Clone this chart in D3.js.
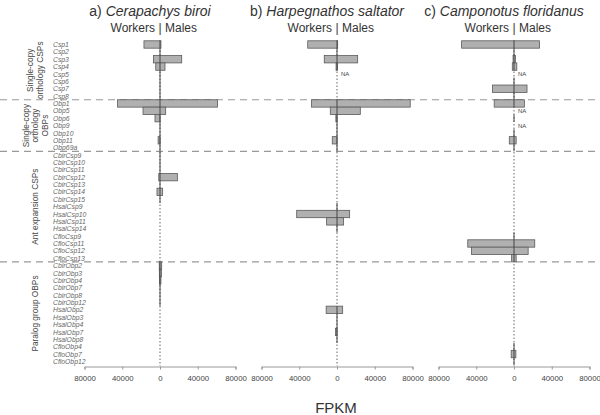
<!DOCTYPE html>
<html>
<head>
<meta charset="utf-8">
<script src="https://cdn.jsdelivr.net/npm/d3@7"></script>
<style>
body { margin: 0; background: #fff; }
text { font-family: "Liberation Sans", Arial, sans-serif; }
</style>
</head>
<body>
<svg id="chart" width="600" height="415"></svg>
<script>
// row labels, top to bottom
const rowLabels = [
  "Csp1", "Csp2", "Csp3", "Csp4", "Csp5", "Csp6", "Csp7", "Csp8",
  "Obp1", "Obp5", "Obp6", "Obp9", "Obp10", "Obp11", "Obp69a",
  "CbirCsp9", "CbirCsp10", "CbirCsp11", "CbirCsp12", "CbirCsp13", "CbirCsp14", "CbirCsp15",
  "HsalCsp9", "HsalCsp10", "HsalCsp11", "HsalCsp14",
  "CfloCsp9", "CfloCsp11", "CfloCsp12", "CfloCsp13",
  "CbirObp2", "CbirObp3", "CbirObp4", "CbirObp7", "CbirObp8", "CbirObp12",
  "HsalObp2", "HsalObp3", "HsalObp4", "HsalObp7", "HsalObp8",
  "CfloObp4", "CfloObp7", "CfloObp12"
];
const groupNames = [["Single-copy", "orthology CSPs"], ["Single-copy", "orthology", "OBPs"],
                    ["Ant expansion CSPs"], ["Paralog group OBPs"]];
const groupSizes = [8, 7, 15, 14];

const panelLetters = ["a)", "b)", "c)"];
const speciesNames = ["Cerapachys biroi", "Harpegnathos saltator", "Camponotus floridanus"];

// FPKM, null = gene not present in that species
const workersCbir = [17000, 0, 7000, 4500, 0, 0, 0, 0,
  45000, 18000, 5300, 0, 0, 2000, 0,
  0, 0, 0, 1300, 0, 3200, 0,
  null, null, null, null, null, null, null, null,
  800, 700, 500, 0, 0, 0,
  null, null, null, null, null, null, null, null];
const malesCbir = [1000, 0, 23000, 5300, 0, 0, 0, 0,
  61000, 6000, 0, 0, 0, 0, 0,
  0, 0, 0, 18400, 0, 2800, 0,
  null, null, null, null, null, null, null, null,
  1800, 1500, 1000, 0, 0, 0,
  null, null, null, null, null, null, null, null];
const naCbir = [];

const workersHsal = [31000, 0, 13500, 1000, null, null, null, null,
  27000, 7100, 1200, 0, 0, 5000, 0,
  null, null, null, null, null, null, null,
  0, 42700, 11000, 0,
  null, null, null, null, null, null, null, null, null, null,
  11500, 0, 0, 1500, 0,
  null, null, null];
const malesHsal = [700, 0, 21900, 500, null, null, null, null,
  77600, 24700, 0, 0, 0, 0, 0,
  null, null, null, null, null, null, null,
  0, 13400, 7000, 0,
  null, null, null, null, null, null, null, null, null, null,
  6000, 0, 0, 0, 0,
  null, null, null];
const naHsal = ["Csp5"];

const workersCflo = [55500, 0, 1000, 1800, null, 0, 22700, 0,
  21000, null, 0, null, 0, 5000, 0,
  null, null, null, null, null, null, null, null, null, null, null,
  0, 49000, 45000, 2500,
  null, null, null, null, null, null, null, null, null, null, null,
  0, 3000, 0];
const malesCflo = [27000, 0, 1500, 3000, null, 0, 13800, 0,
  11000, null, 0, null, 0, 2300, 0,
  null, null, null, null, null, null, null, null, null, null, null,
  0, 22000, 15000, 2300,
  null, null, null, null, null, null, null, null, null, null, null,
  0, 2000, 0];
const naCflo = ["Csp5", "Obp5", "Obp9"];

const tickValues = [-80000, -40000, 0, 40000, 80000];

const panels = [
  { workers: workersCbir, males: malesCbir, na: naCbir },
  { workers: workersHsal, males: malesHsal, na: naHsal },
  { workers: workersCflo, males: malesCflo, na: naCflo }
];

const svg = d3.select("#chart");

const y = d3.scaleBand()
  .domain(rowLabels)
  .range([40.8, 365.1])
  .padding(0);
const bw = y.bandwidth();

// row labels
svg.append("g").selectAll("text")
  .data(rowLabels)
  .join("text")
  .attr("x", 53)
  .attr("y", d => y(d) + bw / 2 + 0.8)
  .attr("dominant-baseline", "middle")
  .style("font-size", "6.8px")
  .style("font-style", "italic")
  .attr("fill", "#666")
  .text(d => d);

// group labels + separators
let start = 0;
groupSizes.forEach((n, gi) => {
  const top = y(rowLabels[start]);
  const bottom = y(rowLabels[start + n - 1]) + bw;
  const yc = (top + bottom) / 2;
  const lines = groupNames[gi];
  lines.forEach((ln, k) => {
    const xc = 35 + (k - (lines.length - 1) / 2) * 9.5;
    svg.append("text")
      .text(ln)
      .attr("text-anchor", "middle")
      .style("font-size", "8.3px")
      .attr("fill", "#444")
      .attr("transform", "translate(" + (xc + 3) + "," + yc + ") rotate(-90)");
  });
  if (gi > 0) {
    svg.append("line")
      .attr("x1", 0).attr("x2", 600)
      .attr("y1", top).attr("y2", top)
      .attr("stroke", "#999")
      .attr("stroke-width", 1.2)
      .attr("stroke-dasharray", "7,5");
  }
  start += n;
});

panels.forEach((p, pi) => {
  const left = 84.5 + pi * 177;
  const x = d3.scaleLinear().domain([-80000, 80000]).range([left, left + 151]);
  const g = svg.append("g");

  // titles
  const title = g.append("text")
    .attr("x", x(0) - 10)
    .attr("y", 16)
    .attr("text-anchor", "middle")
    .style("font-size", "14px")
    .attr("fill", "#333");
  title.append("tspan").text(panelLetters[pi] + " ");
  title.append("tspan").style("font-style", "italic").text(speciesNames[pi]);

  g.append("text").text("Workers")
    .attr("x", x(0) - 5).attr("y", 32)
    .attr("text-anchor", "end")
    .style("font-size", "12px").attr("fill", "#333");
  g.append("text").text("|")
    .attr("x", x(0)).attr("y", 32)
    .attr("text-anchor", "middle")
    .style("font-size", "12px").attr("fill", "#333");
  g.append("text").text("Males")
    .attr("x", x(0) + 5).attr("y", 32)
    .attr("text-anchor", "start")
    .style("font-size", "12px").attr("fill", "#333");

  // dotted zero line
  g.append("line")
    .attr("x1", x(0)).attr("x2", x(0))
    .attr("y1", 40).attr("y2", 366)
    .attr("stroke", "#666")
    .attr("stroke-width", 1)
    .attr("stroke-dasharray", "1.5,2");

  const rows = rowLabels.map((lab, i) => ({ lab: lab, w: p.workers[i], m: p.males[i] }))
    .filter(d => d.w !== null);

  g.append("g").selectAll("rect")
    .data(rows.filter(d => x(d.m) - x(-d.w) > 0.5))
    .join("rect")
    .attr("x", d => x(-d.w))
    .attr("width", d => x(d.m) - x(-d.w))
    .attr("y", d => y(d.lab))
    .attr("height", bw)
    .attr("fill", "#b0b0b0")
    .attr("stroke", "#5a5a5a")
    .attr("stroke-width", 0.8);

  g.append("g").selectAll("line")
    .data(rows)
    .join("line")
    .attr("x1", x(0)).attr("x2", x(0))
    .attr("y1", d => y(d.lab))
    .attr("y2", d => y(d.lab) + bw)
    .attr("stroke", "#444")
    .attr("stroke-width", 1);

  g.append("g").selectAll("text")
    .data(p.na)
    .join("text")
    .attr("x", x(0) + 4)
    .attr("y", d => y(d) + bw / 2 + 0.5)
    .attr("dominant-baseline", "middle")
    .style("font-size", "6px")
    .attr("fill", "#444")
    .text("NA");

  // x axis
  const axis = g.append("g")
    .attr("transform", "translate(0,366.5)")
    .call(d3.axisBottom(x).tickValues(tickValues).tickFormat(d => Math.abs(d)).tickSize(3));
  axis.select(".domain").attr("stroke", "#999");
  axis.selectAll(".tick line").attr("stroke", "#999");
  axis.selectAll(".tick text")
    .attr("y", 9)
    .style("font-size", "7.8px")
    .style("font-family", "'Liberation Sans', Arial, sans-serif")
    .attr("fill", "#444");
});

svg.append("text")
  .text("FPKM")
  .attr("x", 336)
  .attr("y", 413)
  .attr("text-anchor", "middle")
  .style("font-size", "15px")
  .attr("fill", "#333");
</script>
</body>
</html>
